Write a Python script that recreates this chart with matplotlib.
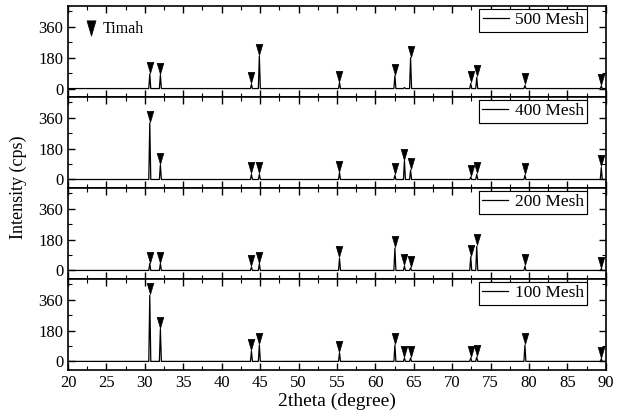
import matplotlib
matplotlib.use("Agg")
import matplotlib.pyplot as plt
from matplotlib.path import Path
from matplotlib.lines import Line2D
from matplotlib.ticker import MultipleLocator

plt.rcParams["font.family"] = ["Liberation Serif", "DejaVu Serif"]
plt.rcParams["font.size"] = 12

# Sn (tin) reflections, 2theta in degrees
two_theta = [30.64, 32.02, 43.87, 44.90, 55.33, 62.54, 63.78, 64.58, 72.41, 73.19, 79.46, 89.40]

# peak intensities (cps)
mesh500 = [85, 80, 25, 190, 35, 75, 6, 180, 30, 65, 18, 15]
mesh400 = [330, 85, 30, 30, 40, 25, 110, 55, 15, 30, 25, 70]
mesh200 = [40, 40, 20, 40, 70, 130, 25, 15, 80, 140, 25, 10]
mesh100 = [385, 190, 60, 95, 50, 95, 20, 20, 20, 25, 95, 15]

# which peaks carry a "Timah" marker
marked500 = [True, True, True, True, True, True, False, True, True, True, True, True]
marked_all = [True] * 12

labels = ["500 Mesh", "400 Mesh", "200 Mesh", "100 Mesh"]
series = [mesh500, mesh400, mesh200, mesh100]
marks = [marked500, marked_all, marked_all, marked_all]

# downward triangle whose tip sits just above the data point
tri = Path([(-0.27, 1.0), (0.27, 1.0), (0.0, 0.08), (-0.27, 1.0)],
           [Path.MOVETO, Path.LINETO, Path.LINETO, Path.CLOSEPOLY])
# same shape centred, for the key
tri_c = Path([(-0.27, 0.46), (0.27, 0.46), (0.0, -0.46), (-0.27, 0.46)],
             [Path.MOVETO, Path.LINETO, Path.LINETO, Path.CLOSEPOLY])

fig, axes = plt.subplots(4, 1, figsize=(6.24, 4.12), dpi=100, sharex=True)
fig.subplots_adjust(left=0.109, right=0.971, top=0.985, bottom=0.102, hspace=0)

hw = 0.13
for ax, lab, ys, mk in zip(axes, labels, series, marks):
    xs = [20.0]
    yy = [0.0]
    for p, h in zip(two_theta, ys):
        xs += [p - hw, p, p + hw]
        yy += [0.0, h, 0.0]
    xs.append(90.0)
    yy.append(0.0)
    ax.plot(xs, yy, color="black", lw=0.9, label=lab)

    px = [p for p, m in zip(two_theta, mk) if m]
    py = [h for h, m in zip(ys, mk) if m]
    ax.plot(px, py, ls="none", marker=tri, markersize=17.5,
            markerfacecolor="black", markeredgecolor="black", markeredgewidth=0.5)

    ax.set_xlim(20, 90)
    ax.set_ylim(-50, 480)
    ax.set_yticks([0, 180, 360])
    ax.yaxis.set_minor_locator(MultipleLocator(90))
    ax.xaxis.set_major_locator(MultipleLocator(5))
    ax.xaxis.set_minor_locator(MultipleLocator(2.5))
    ax.tick_params(which="both", direction="in", top=True, right=True, labelsize=12)
    ax.tick_params(which="major", length=5, width=1.0)
    ax.tick_params(which="minor", length=3, width=0.8)
    for s in ax.spines.values():
        s.set_linewidth(1.2)

    leg = ax.legend(loc="upper right", bbox_to_anchor=(0.970, 1.0), borderaxespad=0.15,
                    fancybox=False, edgecolor="black", framealpha=1, fontsize=12.5,
                    handlelength=1.5, borderpad=0.2, handletextpad=0.35)
    leg.get_frame().set_linewidth(0.8)
    ax.add_artist(leg)

# "Timah" key in the top panel
timah = Line2D([], [], ls="none", marker=tri_c, markersize=11,
               markerfacecolor="black", markeredgecolor="black", markeredgewidth=0.5)
axes[0].legend([timah], ["Timah"], loc="upper left", bbox_to_anchor=(0.005, 0.99),
               frameon=False, fontsize=11.5, handlelength=0.8, handletextpad=0.3)

axes[-1].set_xlabel("2theta (degree)", fontsize=14, labelpad=1)
fig.text(0.03, 0.545, "Intensity (cps)", rotation=90, va="center", ha="center", fontsize=13)

fig.savefig("out.png", dpi=100)
